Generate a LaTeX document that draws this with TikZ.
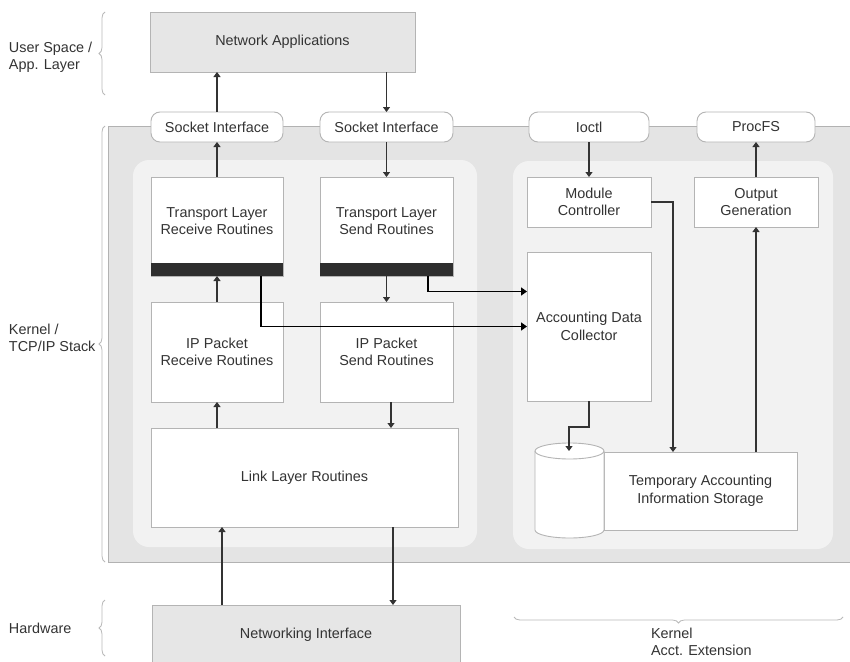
\documentclass[tikz,border=0pt]{standalone}
\usepackage{fontspec}
\setmainfont{Liberation Sans}
\usetikzlibrary{arrows.meta,decorations.pathreplacing}
\definecolor{txtc}{HTML}{333333}
\definecolor{bordc}{HTML}{B4B4B4}
\definecolor{kernc}{HTML}{E4E4E4}
\definecolor{panelc}{HTML}{F2F2F2}
\definecolor{appc}{HTML}{E6E6E6}
\definecolor{linec}{HTML}{333333}
\begin{document}
\begin{tikzpicture}[x=1pt,y=-1pt,
  every node/.style={font=\fontsize{14.4}{17.5}\selectfont, text=txtc, inner sep=0pt, outer sep=0pt},
  whitebox/.style={draw=bordc, fill=white, line width=0.9pt, align=center},
  graybox/.style={draw=bordc, fill=appc, line width=0.9pt, align=center},
  roundbox/.style={draw=bordc, fill=white, line width=0.9pt, rounded corners=9pt, align=center},
  lbl/.style={align=left, anchor=west},
  arr/.style={draw=linec, line width=1.1pt, -{Triangle[length=5pt,width=7pt]}},
  thickarr/.style={draw=black, line width=1.6pt, -{Triangle[length=6pt,width=8pt]}},
  bracestyle/.style={draw=gray!55, line width=0.8pt, decorate, decoration={brace, amplitude=6pt}}
]
\useasboundingbox (0,0) rectangle (850,661);
\clip (0,0) rectangle (850,661);
\fill[white] (0,0) rectangle (850,661);

% kernel region and panels
\draw[fill=kernc, draw=gray!60, line width=1pt] (108,126) rectangle (860,562);
\fill[panelc, rounded corners=16pt] (133,160) rectangle (477,547);
\fill[panelc, rounded corners=16pt] (513,161) rectangle (833,549);

% top / bottom boxes
\node[graybox, minimum width=265, minimum height=60] (netapp) at (282.5,42) {Network Applications};
\node[graybox, minimum width=308, minimum height=64] (netif) at (306,637) {};
\node (netiftxt) at (306,635) {Networking Interface};

% interfaces
\node[roundbox, minimum width=132, minimum height=30] (sock1) at (217,127) {Socket Interface};
\node[roundbox, minimum width=133, minimum height=30] (sock2) at (386.5,127) {Socket Interface};
\node[roundbox, minimum width=120, minimum height=30] (ioctl) at (589,127) {Ioctl};
\node[roundbox, minimum width=118, minimum height=30] (procfs) at (756,127) {ProcFS};

% TCP/IP stack
\node[whitebox, minimum width=132, minimum height=99] (trr) at (217,226.5) {};
\fill[black!82] (trr.south west) rectangle ([yshift=13pt]trr.south east);
\node[align=center] (trrtxt) at (217,221) {Transport Layer\\Receive Routines};
\node[whitebox, minimum width=133, minimum height=99] (trs) at (386.5,226.5) {};
\fill[black!82] (trs.south west) rectangle ([yshift=13pt]trs.south east);
\node[align=center] (trstxt) at (386.5,221) {Transport Layer\\Send Routines};
\node[whitebox, minimum width=132, minimum height=100] (ipr) at (217,352) {IP Packet\\Receive Routines};
\node[whitebox, minimum width=133, minimum height=100] (ips) at (386.5,352) {IP Packet\\Send Routines};
\node[whitebox, minimum width=307, minimum height=99] (link) at (304.5,477.5) {Link Layer Routines};

% accounting extension
\node[whitebox, minimum width=124, minimum height=50] (modc) at (589,202) {Module\\Controller};
\node[whitebox, minimum width=124, minimum height=50] (outg) at (756,202) {Output\\Generation};
\node[whitebox, minimum width=124, minimum height=149] (adc) at (589,326.5) {Accounting Data\\Collector};
\node[whitebox, minimum width=193, minimum height=78] (store) at (700.5,491) {Temporary Accounting\\Information Storage};
% cylinder
\draw[draw=bordc, fill=white, line width=0.9pt]
  (535,451) -- (535,530) arc[start angle=180, end angle=360, x radius=34.5, y radius=-8] -- (604,451)
  arc[start angle=0, end angle=180, x radius=34.5, y radius=-8] -- cycle;
\draw[draw=bordc, line width=0.9pt] (535,451) arc[start angle=180, end angle=360, x radius=34.5, y radius=-8];
\coordinate (cyltop) at (569,451);

% connectors
\draw[arr] (sock1.north) -- (sock1.north |- netapp.south);
\draw[arr] (netapp.south -| sock2.north) -- (sock2.north);
\draw[arr] (trr.north) -- (sock1.south);
\draw[arr] (sock2.south) -- (trs.north);
\draw[arr] (ipr.north) -- (trr.south);
\draw[arr] (trs.south) -- (ips.north);
\draw[arr] (link.north -| ipr.south) -- (ipr.south);
\draw[arr] ([xshift=4.5pt]ips.south) -- ([xshift=4.5pt]ips.south |- link.north);
\draw[arr] ([xshift=-84pt]netif.north) -- ([xshift=-84pt]netif.north |- link.south);
\draw[arr] ([xshift=88.5pt]link.south) -- ([xshift=88.5pt]link.south |- netif.north);
\draw[thickarr] ([xshift=44pt]trr.south) |- (adc.west);
\draw[thickarr] ([xshift=41.5pt]trs.south) |- ([yshift=35pt]adc.west);
\draw[arr] (ioctl.south) -- (modc.north);
\draw[arr] (outg.north) -- (procfs.south);
\draw[arr] (modc.east) -| ([xshift=-27.5pt]store.north);
\draw[arr] (store.north -| outg.south) -- (outg.south);
\draw[arr] (adc.south) -- ++(0,26) -| (cyltop);

% braces and side labels
\draw[bracestyle] (105,95) -- (105,12);
\draw[bracestyle] (105,562) -- (105,126);
\draw[bracestyle] (105,656) -- (105,600);
\draw[bracestyle] (843,617) -- (514,617);
\node[lbl] (lus) at (9,57.5) {User Space /\\App. Layer};
\node[lbl] (lk) at (9,338) {Kernel /\\TCP/IP Stack};
\node[lbl] (lhw) at (9,628) {Hardware};
\node[lbl] (lka) at (651,642) {Kernel\\Acct. Extension};
\end{tikzpicture}
\end{document}
